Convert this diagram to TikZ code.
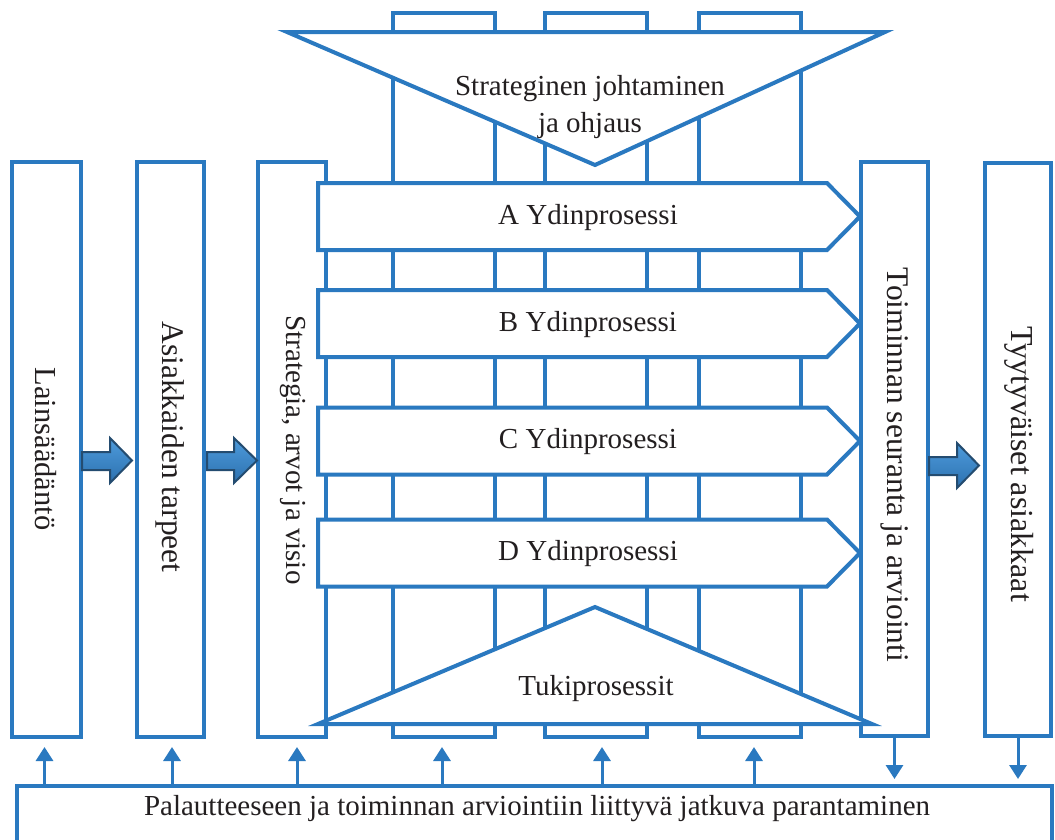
\documentclass[tikz,border=0pt]{standalone}
\usepackage{fontspec}
\setmainfont{Liberation Serif}
\usetikzlibrary{arrows.meta}
\definecolor{frame}{RGB}{42,121,192}
\definecolor{ink}{RGB}{35,31,32}
\definecolor{fattop}{RGB}{78,156,220}
\definecolor{fatbot}{RGB}{44,112,175}
\definecolor{fatedge}{RGB}{36,76,112}

\begin{document}
\begin{tikzpicture}[x=1pt,y=-1pt,line join=miter,
  frm/.style={draw=frame,line width=4pt},
  box/.style={frm,fill=white,rectangle,inner sep=0pt},
  lbl/.style={text=ink,font=\fontsize{29}{37}\selectfont,inner sep=0pt},
  vlbl/.style={text=ink,inner sep=0pt,rotate=-90},
  fat/.style={draw=fatedge,line width=2pt,top color=fattop,bottom color=fatbot},
  fbarrow/.style={draw=frame,line width=3pt,-{Triangle[width=17pt,length=14pt]}}
]
\useasboundingbox (0,0) rectangle (1055,839);
\clip (0,0) rectangle (1055,839);
\fill[white] (0,0) rectangle (1055,839);

% process columns running behind everything
\node[box, minimum width=102pt, minimum height=724pt] (c1) at (444,375) {};
\node[box, minimum width=102pt, minimum height=724pt] (c2) at (596,375) {};
\node[box, minimum width=102pt, minimum height=724pt] (c3) at (750,375) {};

% tall boxes
\node[box, minimum width=69pt, minimum height=575pt] (law)   at (46.5,449.5) {};
\node[box, minimum width=67pt, minimum height=575pt] (need)  at (170.5,449.5) {};
\node[box, minimum width=68pt, minimum height=575pt] (strat) at (292,449.5) {};
\node[box, minimum width=67pt, minimum height=574pt] (eval)  at (894.5,449) {};
\node[box, minimum width=66pt, minimum height=573pt] (happy) at (1018,449.5) {};

% steering triangle and support triangle
\draw[frm,fill=white] (287,32) -- (885,32) -- (595,165) -- cycle;
\draw[frm,fill=white] (318,724) -- (872,724) -- (595,607) -- cycle;
\node[lbl,align=center] (steer) at (590,107) {Strateginen johtaminen\\ja ohjaus};
\node[lbl] (support) at (596,689) {Tukiprosessit};

% core processes
\foreach \n/\yc in {A/216.5,B/323.5,C/441,D/553}{
  \draw[frm,fill=white] (318,\yc-33.5) -- (827,\yc-33.5) -- (860,\yc)
        -- (827,\yc+33.5) -- (318,\yc+33.5) -- cycle;
  \node[lbl] (proc\n) at (588,\yc+1) {\n\ Ydinprosessi};
}

% thick block arrows
\draw[fat] (82,452) -- (110,452) -- (110,438) -- (132,460.5) -- (110,483)
           -- (110,470) -- (82,470) -- cycle;
\draw[fat] (207,452) -- (234,452) -- (234,438) -- (257,460.5) -- (234,483)
           -- (234,470) -- (207,470) -- cycle;
\draw[fat] (929,457) -- (957,457) -- (957,443) -- (979,465.5) -- (957,488)
           -- (957,475) -- (929,475) -- cycle;

% labels of tall boxes
\node[vlbl,font=\fontsize{30.5}{36}\selectfont] (lawtxt)   at (46,449)  {Lainsäädäntö};
\node[vlbl,font=\fontsize{31.5}{36}\selectfont] (needtxt)  at (170,447) {Asiakkaiden tarpeet};
\node[vlbl,font=\fontsize{29}{36}\selectfont]   (strattxt) at (293,450) {Strategia, arvot ja visio};
\node[vlbl,font=\fontsize{31.5}{36}\selectfont] (evaltxt)  at (895,465) {Toiminnan seuranta ja arviointi};
\node[vlbl,font=\fontsize{32}{36}\selectfont]   (happytxt) at (1019,464) {Tyytyväiset asiakkaat};

% continuous improvement box
\node[box, minimum width=1035pt, minimum height=100pt, anchor=north west] (fb) at (15,784) {};
\node[lbl] (fbtxt) at (537,809) {Palautteeseen ja toiminnan arviointiin liittyvä jatkuva parantaminen};

% feedback arrows
\draw[fbarrow,shorten >=8pt] ([xshift=-2pt]fb.north -| law.south) -- ([xshift=-2pt]law.south);
\draw[fbarrow,shorten >=8pt] ([xshift=1.5pt]fb.north -| need.south) -- ([xshift=1.5pt]need.south);
\draw[fbarrow,shorten >=8pt] ([xshift=5pt]fb.north -| strat.south) -- ([xshift=5pt]strat.south);
\draw[fbarrow,shorten >=8pt] ([xshift=-2pt]fb.north -| c1.south) -- ([xshift=-2pt]c1.south);
\draw[fbarrow,shorten >=8pt] ([xshift=6pt]fb.north -| c2.south) -- ([xshift=6pt]c2.south);
\draw[fbarrow,shorten >=8pt] ([xshift=4pt]fb.north -| c3.south) -- ([xshift=4pt]c3.south);
\draw[fbarrow,shorten >=5pt] (eval.south) -- (eval.south |- fb.north);
\draw[fbarrow,shorten >=5pt] (happy.south) -- (happy.south |- fb.north);
\end{tikzpicture}
\end{document}
